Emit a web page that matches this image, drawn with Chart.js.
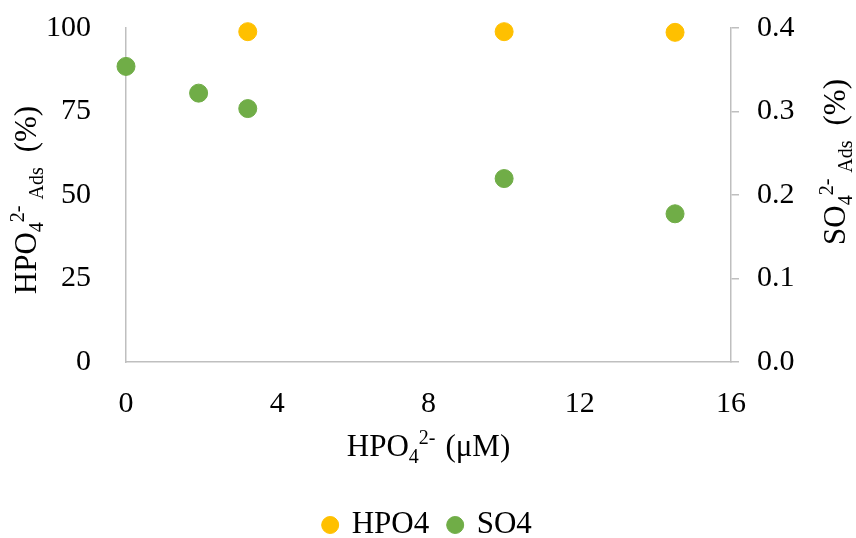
<!DOCTYPE html>
<html>
<head>
<meta charset="utf-8">
<script src="https://cdn.jsdelivr.net/npm/chart.js@4.4.1/dist/chart.umd.min.js"></script>
<style>
  body { margin: 0; background: #fff; }
  canvas { display: block; }
</style>
</head>
<body>
<canvas id="ads_chart" width="856" height="538"></canvas>
<script>
// values
var hpoX = [3.22, 10.0, 14.52];
var hpoY = [98.9, 98.9, 98.7];
var soX = [0, 1.92, 3.22, 10.0, 14.52];
var soY = [0.354, 0.322, 0.3035, 0.2197, 0.1775];
var xTicks = [0, 4, 8, 12, 16];
var leftTicks = [0, 25, 50, 75, 100];
var rightTicks = [0.0, 0.1, 0.2, 0.3, 0.4];

var axisGray = "#bfbfbf";
var serif = "'Liberation Serif', 'Times New Roman', serif";

function toPoints(xs, ys) {
  return xs.map(function(x, i){ return {x: x, y: ys[i]}; });
}

// draws a title with sub/superscripts, centered on (x, y)
function drawRich(ctx, parts, x, y, rot) {
  ctx.save();
  ctx.translate(x, y);
  ctx.rotate(rot);
  ctx.fillStyle = "#000";
  ctx.textBaseline = "alphabetic";
  var w = 0;
  parts.forEach(function(p){
    ctx.font = (p.s ? 20 : 31) + "px " + serif;
    p.w = ctx.measureText(p.t).width + (p.g || 0);
    w += p.w;
  });
  var cx = -w / 2;
  parts.forEach(function(p){
    ctx.font = (p.s ? 20 : 31) + "px " + serif;
    var dy = p.s == "sub" ? 7 : (p.s == "sup" ? -12 : 0);
    ctx.fillText(p.t, cx + (p.g || 0), dy);
    cx += p.w;
  });
  ctx.restore();
}

// fixed axis sizes, and no extra room for the end labels
function fixSize(w, h) {
  return function(s) {
    if (w) s.width = w;
    if (h) s.height = h;
    s.paddingTop = 0; s.paddingBottom = 0;
    s.paddingLeft = 0; s.paddingRight = 0;
  };
}

Chart.defaults.font.family = serif;
Chart.defaults.color = "#000";

var whiteBg = {
  id: "whiteBg",
  beforeDraw: function(chart) {
    var ctx = chart.ctx;
    ctx.fillStyle = "white";
    ctx.fillRect(0, 0, chart.width, chart.height);
  }
};

var axisTitles = {
  id: "axisTitles",
  afterDraw: function(chart) {
    var ctx = chart.ctx;
    var a = chart.chartArea;
    drawRich(ctx, [{t: "HPO"}, {t: "4", s: "sub"}, {t: "2-", s: "sup"}, {t: "(μM)", g: 10}],
      (a.left + a.right) / 2, a.bottom + 94, 0);
    drawRich(ctx, [{t: "HPO"}, {t: "4", s: "sub"}, {t: "2-", s: "sup"}, {t: "Ads", s: "sub", g: 6}, {t: "(%)", g: 15}],
      36, 200, -Math.PI / 2);
    drawRich(ctx, [{t: "SO"}, {t: "4", s: "sub"}, {t: "2-", s: "sup"}, {t: "Ads", s: "sub", g: 6}, {t: "(%)", g: 15}],
      845, 162, -Math.PI / 2);
  }
};

function start() {
  var ctx = document.getElementById("ads_chart").getContext("2d");
  new Chart(ctx, {
    type: "scatter",
    data: {
      datasets: [
        {
          label: "HPO4",
          data: toPoints(hpoX, hpoY),
          yAxisID: "y",
          backgroundColor: "#FFC000",
          borderColor: "#FFC000",
          pointRadius: 9,
          pointHoverRadius: 9,
          pointStyle: "circle"
        },
        {
          label: "SO4",
          data: toPoints(soX, soY),
          yAxisID: "y2",
          backgroundColor: "#70AD47",
          borderColor: "#70AD47",
          pointRadius: 9,
          pointHoverRadius: 9,
          pointStyle: "circle"
        }
      ]
    },
    options: {
      responsive: false,
      animation: false,
      clip: false,
      layout: { padding: { top: 28, left: 0, right: 0, bottom: -12.5 } },
      plugins: {
        tooltip: { enabled: false },
        legend: {
          position: "bottom",
          labels: {
            usePointStyle: true,
            boxWidth: 12,
            boxHeight: 12,
            padding: 20,
            font: { size: 31 },
            color: "#000"
          }
        }
      },
      scales: {
        x: {
          type: "linear",
          min: xTicks[0],
          max: xTicks[xTicks.length - 1],
          afterBuildTicks: function(s){ s.ticks = xTicks.map(function(v){ return {value: v}; }); },
          grid: { display: false },
          border: { color: axisGray, width: 1.5 },
          ticks: { font: { size: 30 }, padding: 16, maxRotation: 0 },
          afterFit: fixSize(0, 127.5)
        },
        y: {
          position: "left",
          min: 0,
          max: 100,
          afterBuildTicks: function(s){ s.ticks = leftTicks.map(function(v){ return {value: v}; }); },
          grid: { display: false },
          border: { color: axisGray, width: 1.5 },
          ticks: { font: { size: 30 }, padding: 27 },
          afterFit: fixSize(126, 0)
        },
        y2: {
          position: "right",
          min: 0,
          max: 0.4,
          afterBuildTicks: function(s){ s.ticks = rightTicks.map(function(v){ return {value: v}; }); },
          grid: { drawOnChartArea: false, drawTicks: true, tickLength: 8, color: axisGray, lineWidth: 1.5 },
          border: { color: axisGray, width: 1.5 },
          ticks: {
            font: { size: 30 },
            padding: 18,
            callback: function(v){ return Number(v).toFixed(1); }
          },
          afterFit: fixSize(125, 0)
        }
      }
    },
    plugins: [whiteBg, axisTitles]
  });
}

window.onload = start;
</script>
</body>
</html>
